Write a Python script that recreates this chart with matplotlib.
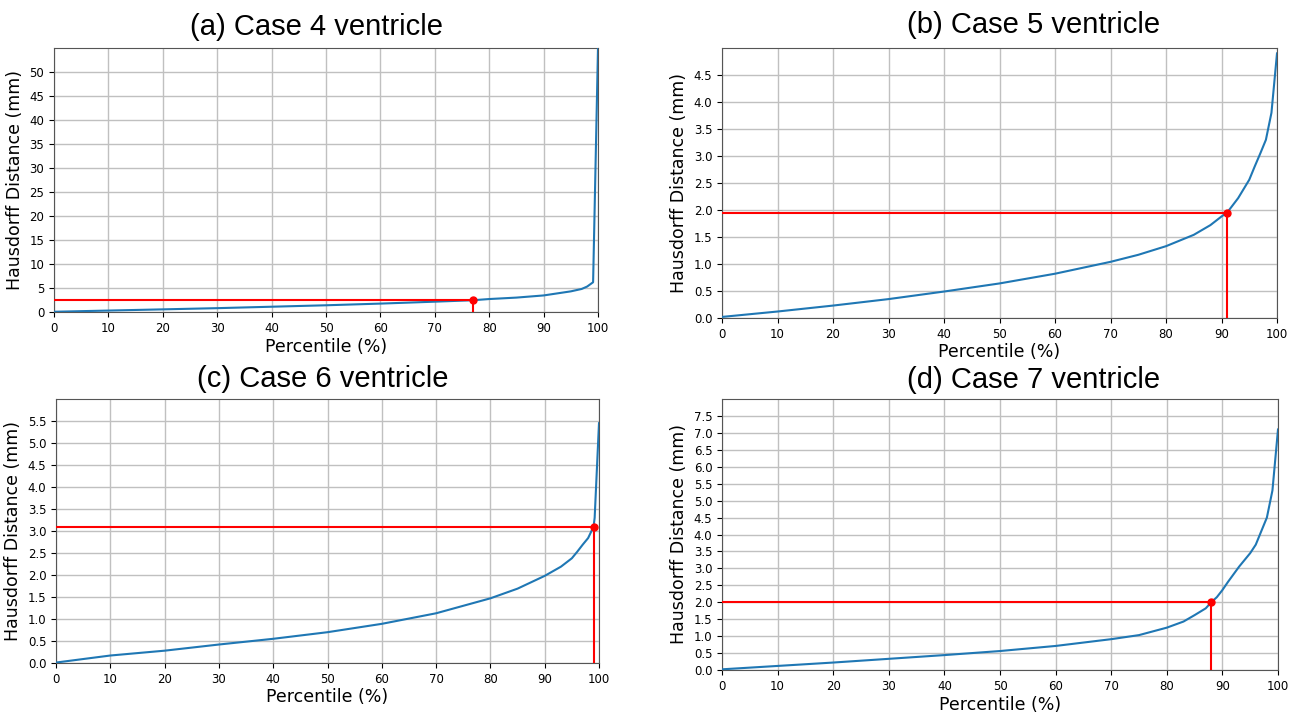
import matplotlib
matplotlib.use('Agg')
import matplotlib.pyplot as plt
import numpy as np

TITLES = ['(a) Case 4 ventricle', '(b) Case 5 ventricle', '(c) Case 6 ventricle', '(d) Case 7 ventricle']

# percentile (%) vs Hausdorff distance (mm)
PCT_A = [0, 10, 20, 30, 40, 50, 60, 70, 77, 80, 85, 90, 95, 97, 98, 99.1, 100]
HD_A = [0.05, 0.3, 0.55, 0.8, 1.1, 1.4, 1.75, 2.15, 2.45, 2.7, 3.0, 3.45, 4.3, 4.8, 5.3, 6.2, 55]

PCT_B = [0, 10, 20, 30, 40, 50, 60, 70, 75, 80, 85, 88, 90, 91, 93, 95, 96, 97, 98, 99, 100]
HD_B = [0.02, 0.12, 0.23, 0.35, 0.49, 0.64, 0.82, 1.04, 1.17, 1.33, 1.54, 1.72, 1.88, 1.95, 2.22, 2.56, 2.81, 3.05, 3.3, 3.8, 4.9]

PCT_C = [0, 10, 20, 30, 40, 50, 60, 70, 80, 85, 90, 93, 95, 96, 97, 98, 99, 99.2, 100]
HD_C = [0.01, 0.17, 0.28, 0.42, 0.55, 0.70, 0.89, 1.13, 1.47, 1.69, 1.98, 2.19, 2.38, 2.53, 2.69, 2.84, 3.1, 3.3, 5.45]

PCT_D = [0, 10, 20, 30, 40, 50, 60, 70, 75, 80, 83, 85, 87, 88, 89, 90, 91, 93, 95, 96, 97, 98, 99, 99.5, 100]
HD_D = [0.02, 0.12, 0.22, 0.33, 0.44, 0.56, 0.71, 0.91, 1.03, 1.25, 1.43, 1.62, 1.82, 2.0, 2.15, 2.36, 2.6, 3.05, 3.45, 3.7, 4.1, 4.5, 5.3, 6.2, 7.1]

CUT_PCT = [77, 91, 99, 88]
CUT_HD = [2.45, 1.95, 3.1, 2.0]

YTOP = [55, 5, 6, 8]
YSTEP = [5, 0.5, 0.5, 0.5]
YFMT = ['%d', '%.1f', '%.1f', '%.1f']

W, H = 1296, 712
# axes boxes in pixels: left, top, right, bottom
AXPIX = [(54, 48, 598, 312), (722, 48, 1277, 318), (56, 399, 599, 663), (722, 399, 1278, 670)]
# title centre x / baseline y in pixels
TITLEPIX = [(316, 35), (1034, 33), (323, 387), (1034, 388)]


def main():
   curves = [(PCT_A, HD_A), (PCT_B, HD_B), (PCT_C, HD_C), (PCT_D, HD_D)]
   fig = plt.figure(figsize=(W / 100, H / 100), dpi=100)

   for i, (pct, hd) in enumerate(curves):
      l, t, r, b = AXPIX[i]
      ax = fig.add_axes([l / W, 1 - b / H, (r - l) / W, (b - t) / H])
      ax.plot(pct, hd, color='#1f77b4', lw=1.5, zorder=3)
      ax.plot([0, CUT_PCT[i]], [CUT_HD[i], CUT_HD[i]], color='red', lw=1.5, zorder=4)
      ax.plot([CUT_PCT[i], CUT_PCT[i]], [0, CUT_HD[i]], color='red', lw=1.5, zorder=4)
      ax.plot([CUT_PCT[i]], [CUT_HD[i]], 'o', color='red', ms=5, zorder=5)

      ax.set_xlim(0, 100)
      ax.set_ylim(0, YTOP[i])
      ax.set_xticks(np.arange(0, 101, 10))
      yt = np.arange(0, YTOP[i] - YSTEP[i] / 2, YSTEP[i])
      ax.set_yticks(yt, [YFMT[i] % v for v in yt])
      ax.tick_params(labelsize=8.5)
      ax.grid(True, color='#c0c0c0', lw=1)
      for sp in ax.spines.values():
         sp.set_color('#555555')
      ax.set_xlabel('Percentile (%)', fontsize=12.5, labelpad=2)
      ax.set_ylabel('Hausdorff Distance (mm)', fontsize=12.5)

      tx, ty = TITLEPIX[i]
      fig.text(tx / W, 1 - ty / H, TITLES[i], ha='center', va='baseline',
               fontsize=21, family='Liberation Sans')

   plt.savefig('out.png', dpi=100)
   plt.close()


if __name__ == '__main__':
   main()
